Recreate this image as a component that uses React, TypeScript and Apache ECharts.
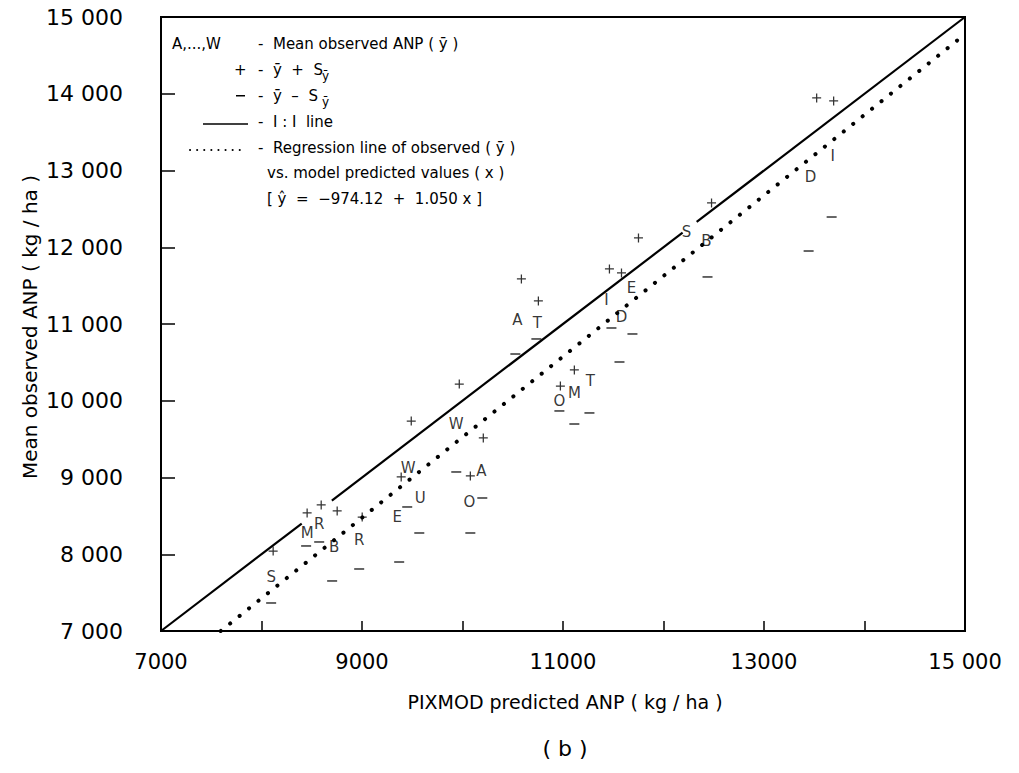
import React, { useEffect, useRef } from "react";
import * as echarts from "echarts";

// ---- data ----
const siteLabels = ["S", "M", "R", "B", "R", "E", "W", "U", "W", "A", "O", "O", "M", "T", "A", "T", "I", "D", "E", "S", "B", "D", "I"];
const siteX = [8096, 8454, 8574, 8723, 8972, 9351, 9460, 9580, 9938, 10187, 10068, 10964, 11113, 11273, 10546, 10745, 11432, 11582, 11681, 12229, 12428, 13464, 13683];
const siteY = [7704, 8277, 8394, 8095, 8186, 8485, 9124, 8733, 9697, 9085, 8681, 9997, 10101, 10258, 11052, 11013, 11313, 11091, 11469, 12199, 12082, 12916, 13189];

const plusX = [8116, 8454, 8594, 8753, 9002, 9390, 9490, 9968, 10078, 10207, 10586, 10755, 10974, 11113, 11462, 11582, 11751, 12478, 13524, 13693];
const plusY = [8042, 8538, 8642, 8564, 8485, 9007, 9736, 10218, 9020, 9515, 11587, 11300, 10192, 10401, 11717, 11665, 12121, 12577, 13945, 13906];

const minusX = [8096, 8444, 8574, 8703, 8972, 9370, 9450, 9570, 9938, 10197, 10078, 10526, 10735, 10964, 11263, 11113, 11482, 11691, 11562, 12438, 13444, 13673];
const minusY = [7365, 8108, 8160, 7652, 7808, 7899, 8616, 8277, 9072, 8733, 8277, 10609, 10805, 9867, 9841, 9697, 10948, 10870, 10505, 11613, 11951, 12394];

// 1:1 line drawn in pieces (gaps around symbols as in the figure)
const oneToOneSegments = [
  [7000, 8400],
  [8700, 12190],
  [12330, 15000],
];

// regression  y^ = -974.12 + 1.050 x
const regIntercept = -974.12;
const regSlope = 1.05;
const regXRange = [7594, 15000];

const axisMin = 7000;
const axisMax = 15000;
const axisStep = 1000;
const xTickLabels: Record<number, string> = { 7000: "7000", 9000: "9000", 11000: "11000", 13000: "13000", 15000: "15 000" };
const yTickLabels: Record<number, string> = {
  7000: "7 000", 8000: "8 000", 9000: "9 000", 10000: "10 000", 11000: "11 000",
  12000: "12 000", 13000: "13 000", 14000: "14 000", 15000: "15 000",
};

const FONT = "DejaVu Sans";

const plusPath = "path://M0,4.3H10V5.7H0Z M4.3,0H5.7V10H4.3Z";

export default function App() {
  const ref = useRef<HTMLDivElement>(null);
  useEffect(() => {
    document.body.style.margin = "0";
    const chart = echarts.init(ref.current!, undefined, { renderer: "svg" });

    const lineSeries = oneToOneSegments.map((seg) => ({
      type: "line",
      data: seg.map((v) => [v, v]),
      symbol: "none",
      lineStyle: { color: "#000", width: 2.2 },
      silent: true,
      z: 2,
    }));

    const t = (x: number, y: number, text: string, size = 15, extra: any = {}) => ({
      type: "text",
      x,
      y,
      style: { text, font: `${size}px "${FONT}"`, fill: "#000", textVerticalAlign: "middle", ...extra },
    });

    const legendX = 258;
    const graphic: any[] = [
      t(172, 44, "A,...,W"),
      t(legendX, 44, "-  Mean observed ANP ( ȳ )"),
      t(234, 70, "+"),
      t(legendX, 70, "-  ȳ  +  S"),
      t(legendX + 64, 76, "ȳ", 12),
      { type: "rect", shape: { x: 236, y: 95, width: 9, height: 1.5 }, style: { fill: "#000" } },
      t(legendX, 96, "-  ȳ  –  S"),
      t(legendX + 64, 102, "ȳ", 12),
      { type: "line", shape: { x1: 203, y1: 124, x2: 248, y2: 124 }, style: { stroke: "#000", lineWidth: 1.5 } },
      t(legendX, 122, "-  I : I  line"),
      { type: "line", shape: { x1: 190, y1: 150, x2: 245, y2: 150 }, style: { stroke: "#000", lineWidth: 2, lineDash: [0.1, 7], lineCap: "round" } },
      t(legendX, 148, "-  Regression line of observed ( ȳ )"),
      t(legendX + 9, 173, "vs. model predicted values ( x )"),
      t(legendX + 9, 199, "[ ŷ  =  −974.12  +  1.050 x ]"),
      {
        type: "text",
        x: 30,
        y: 327,
        rotation: Math.PI / 2,
        style: { text: "Mean observed ANP ( kg / ha )", font: `20px "${FONT}"`, fill: "#000", textAlign: "center", textVerticalAlign: "middle" },
      },
      t(565, 702, "PIXMOD predicted ANP ( kg / ha )", 19, { textAlign: "center" }),
      t(565, 748, "( b )", 22, { textAlign: "center" }),
    ];

    chart.setOption({
      animation: false,
      backgroundColor: "#fff",
      grid: { left: 161, right: 54, top: 17, bottom: 142, show: true, borderColor: "#000", borderWidth: 2 },
      xAxis: {
        type: "value",
        min: axisMin,
        max: axisMax,
        interval: axisStep,
        splitLine: { show: false },
        axisLine: { lineStyle: { color: "#000", width: 2 } },
        axisTick: { inside: true, length: 10, lineStyle: { color: "#000", width: 1.5 } },
        axisLabel: {
          margin: 20,
          color: "#000",
          fontFamily: FONT,
          fontSize: 21,
          formatter: (v: number) => xTickLabels[v] ?? "",
        },
      },
      yAxis: {
        type: "value",
        min: axisMin,
        max: axisMax,
        interval: axisStep,
        splitLine: { show: false },
        axisLine: { lineStyle: { color: "#000", width: 2 } },
        axisTick: { inside: true, length: 14, lineStyle: { color: "#000", width: 1.5 } },
        axisLabel: {
          margin: 38,
          color: "#000",
          fontFamily: FONT,
          fontSize: 22,
          formatter: (v: number) => yTickLabels[v] ?? "",
        },
      },
      graphic,
      series: [
        ...lineSeries,
        {
          type: "line",
          data: regXRange.map((x) => [x, regIntercept + regSlope * x]),
          symbol: "none",
          lineStyle: { color: "#000", width: 4, type: [0.1, 12], cap: "round" },
          silent: true,
          z: 2,
        },
        {
          type: "scatter",
          data: siteX.map((x, i) => [x, siteY[i], siteLabels[i]]),
          symbol: "circle",
          symbolSize: 1,
          itemStyle: { color: "rgba(0,0,0,0)" },
          label: {
            show: true,
            position: "inside",
            formatter: (p: any) => p.value[2],
            color: "#000",
            fontFamily: FONT,
            fontSize: 15,
            textBorderWidth: 0,
            textBorderColor: "transparent",
          },
          z: 3,
        },
        {
          type: "scatter",
          data: plusX.map((x, i) => [x, plusY[i]]),
          symbol: plusPath,
          symbolSize: 9,
          itemStyle: { color: "#000" },
          z: 3,
        },
        {
          type: "scatter",
          data: minusX.map((x, i) => [x, minusY[i]]),
          symbol: "rect",
          symbolSize: [10, 1.5],
          itemStyle: { color: "#000" },
          z: 3,
        },
      ],
    });
    return () => chart.dispose();
  }, []);
  return <div ref={ref} style={{ width: 1019, height: 773 }} />;
}
